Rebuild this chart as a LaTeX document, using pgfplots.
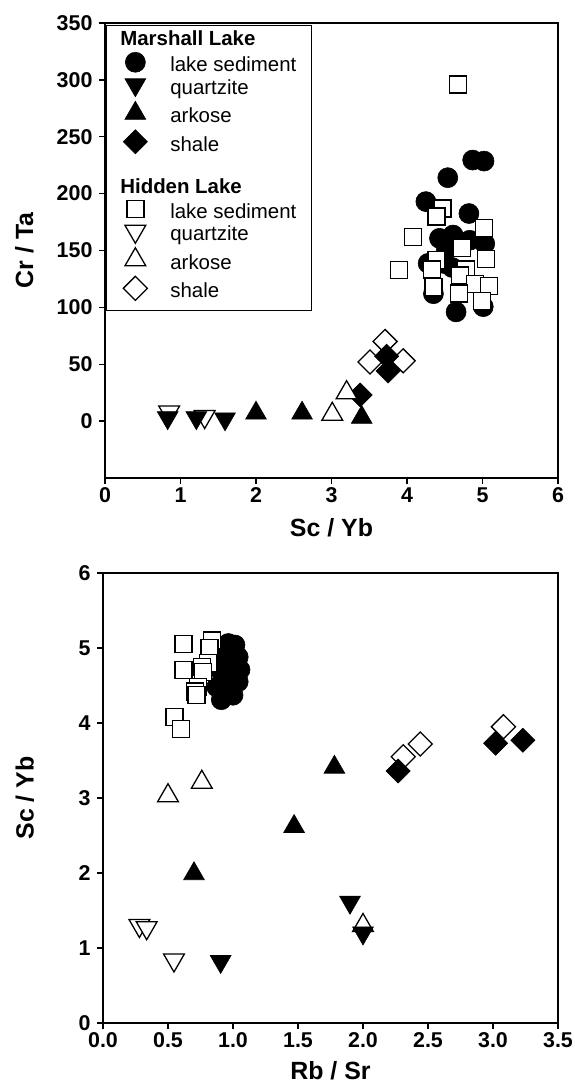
\documentclass[border=0pt]{standalone}
\usepackage{pgfplots}
\pgfplotsset{compat=1.18}
\usepackage{fontspec}
\setmainfont{Liberation Sans}

\pgfplotsset{
  mystyle/.style={
    scale only axis,
    axis line style={line width=1.3bp},
    tick style={line width=1.3bp, black},
    major tick length=6bp,
    tick align=outside,
    xtick pos=left, ytick pos=left,
    /pgf/number format/assume math mode=true,
    tick label style={font=\fontsize{21.5}{21.5}\selectfont\bfseries},
    y tick label style={xshift=-3bp},
    label style={font=\fontsize{25}{25}\selectfont\bfseries},
    clip=false,
  },
  mkcirc/.style={mark=*, mark size=10bp, mark options={draw=black, fill=black, line width=0.6bp}},
  mksqo/.style={mark=square*, mark size=8.5bp, mark options={draw=black, fill=white, line width=1.3bp}},
  mktup/.style={mark=triangle*, mark size=12bp, mark options={draw=black, fill=black, line width=0.6bp}},
  mktupo/.style={mark=triangle*, mark size=12bp, mark options={draw=black, fill=white, line width=1.3bp}},
  mktdn/.style={mark=triangle*, mark size=12bp, mark options={rotate=180, draw=black, fill=black, line width=0.6bp}},
  mktdno/.style={mark=triangle*, mark size=12bp, mark options={rotate=180, draw=black, fill=white, line width=1.3bp}},
  mkdia/.style={mark=square*, mark size=8.5bp, mark options={rotate=45, draw=black, fill=black, line width=0.6bp}},
  mkdiao/.style={mark=square*, mark size=8.5bp, mark options={rotate=45, draw=black, fill=white, line width=1.3bp}},
  leg/.style={legend image code/.code={\path[draw=none, fill=none] (0bp,0bp) rectangle (57bp,1bp); \draw[##1, only marks] plot coordinates {(22bp,6bp)};}},
}

\begin{document}
\begin{tikzpicture}
\path[use as bounding box] (0,0) rectangle (575bp,1086bp);

% ---------------- top panel ----------------
\begin{axis}[mystyle,
  at={(105bp,608bp)}, anchor=south west,
  width=453bp, height=455bp,
  xmin=0, xmax=6, ymin=-50, ymax=350,
  xtick={0,1,2,3,4,5,6},
  ytick={0,50,100,150,200,250,300,350},
  xlabel={Sc / Yb}, ylabel={Cr / Ta},
  xlabel style={at={(axis description cs:0.5,-0.11)}, anchor=center},
  ylabel style={at={(axis description cs:-0.178,0.5)}, anchor=center},
  legend cell align=left,
  legend style={at={(axis description cs:0.002,0.996)}, anchor=north west,
    draw=black, line width=0.9bp, fill=white, inner xsep=7bp, inner ysep=6bp,
    row sep=0pt, column sep=0pt,
    nodes={inner sep=0pt, text height=14bp, text depth=7bp, font=\fontsize{20.5}{20.5}\selectfont}},
]
\addlegendimage{empty legend}\addlegendentry{\hspace*{-50bp}\bfseries Marshall Lake}
\addlegendimage{mkcirc, leg}\addlegendentry{lake sediment\hspace*{8bp}}
\addlegendimage{mktdn, leg}\addlegendentry{quartzite}
\addlegendimage{mktup, leg}\addlegendentry{arkose}
\addlegendimage{mkdia, leg}\addlegendentry{shale}
\addlegendimage{empty legend}\addlegendentry{}
\addlegendimage{empty legend}\addlegendentry{\hspace*{-50bp}\bfseries Hidden Lake}
\addlegendimage{mksqo, leg}\addlegendentry{lake sediment}
\addlegendimage{mktdno, leg}\addlegendentry{quartzite}
\addlegendimage{mktupo, leg}\addlegendentry{arkose}
\addlegendimage{mkdiao, leg}\addlegendentry{shale}

% Hidden shale
\addplot[only marks, mkdiao, forget plot] coordinates {(3.71,70)(3.51,52)(3.95,53)};
% Marshall shale
\addplot[only marks, mkdia, forget plot] coordinates {(3.38,23)(3.73,57)(3.75,44)};
% Hidden arkose
\addplot[only marks, mktupo, forget plot] coordinates {(3.01,6)(3.20,25)};
% Marshall arkose
\addplot[only marks, mktup, forget plot] coordinates {(2.00,7)(2.61,7)(3.40,3.3)};
% Hidden quartzite
\addplot[only marks, mktdno, forget plot] coordinates {(0.85,8)(1.32,4)};
% Marshall quartzite
\addplot[only marks, mktdn, forget plot] coordinates {(0.83,3)(1.21,3)(1.59,2)};
% Marshall lake sediment
\addplot[only marks, mkcirc, forget plot] coordinates {
(4.87,229.5)(5.02,228.6)(4.54,214)(4.25,193)(4.82,182.5)(4.43,160.7)(4.61,163.6)
(4.83,159)(5.03,156)(4.28,138.7)(4.48,138.7)(4.60,135)(4.52,150)(4.75,127)
(4.35,112)(4.65,96)(5.01,100.6)};
% Hidden lake sediment
\addplot[only marks, mksqo, forget plot] coordinates {
(4.68,296)(4.47,187)(4.39,180)(4.08,161.6)(5.02,169.5)(4.73,152)(5.05,142.5)
(3.89,133)(4.39,141.6)(4.33,133.4)(4.78,133.4)(4.70,128)(4.90,120.5)(5.09,118.8)
(4.35,118)(4.69,112.3)(4.99,105.8)};
\end{axis}

% ---------------- bottom panel ----------------
\begin{axis}[mystyle,
  at={(103bp,63bp)}, anchor=south west,
  width=455bp, height=450bp,
  xmin=0, xmax=3.5, ymin=0, ymax=6,
  xtick={0,0.5,1,1.5,2,2.5,3,3.5},
  ytick={0,1,2,3,4,5,6},
  x tick label style={/pgf/number format/.cd, fixed, fixed zerofill, precision=1},
  xlabel={Rb / Sr}, ylabel={Sc / Yb},
  xlabel style={at={(axis description cs:0.5,-0.106)}, anchor=center},
  ylabel style={at={(axis description cs:-0.172,0.5)}, anchor=center},
]
% Hidden shale
\addplot[only marks, mkdiao] coordinates {(2.31,3.55)(2.44,3.72)(3.08,3.95)};
% Marshall shale
\addplot[only marks, mkdia] coordinates {(2.27,3.36)(3.02,3.73)(3.23,3.77)};
% Hidden arkose
\addplot[only marks, mktupo] coordinates {(0.50,3.03)(0.76,3.21)(2.00,1.30)};
% Marshall arkose
\addplot[only marks, mktup] coordinates {(0.70,1.99)(1.47,2.62)(1.78,3.41)};
% Hidden quartzite
\addplot[only marks, mktdno] coordinates {(0.28,1.30)(0.336,1.27)(0.546,0.84)};
% Marshall quartzite
\addplot[only marks, mktdn] coordinates {(0.905,0.82)(1.90,1.61)(2.00,1.20)};
% Marshall lake sediment
\addplot[only marks, mkcirc] coordinates {
(0.964,5.06)(1.015,5.04)(1.04,4.88)(1.054,4.71)(1.04,4.55)(1.00,4.37)(0.91,4.31)
(0.94,4.50)(0.90,4.71)(0.92,4.93)(0.98,4.80)(0.95,4.60)(0.875,4.48)};
% Hidden lake sediment
\addplot[only marks, mksqo] coordinates {
(0.62,5.05)(0.84,5.10)(0.82,5.00)(0.62,4.71)(0.81,4.80)(0.76,4.75)(0.77,4.68)
(0.73,4.48)(0.71,4.42)(0.72,4.37)(0.55,4.08)(0.60,3.92)};
\end{axis}
\end{tikzpicture}
\end{document}
